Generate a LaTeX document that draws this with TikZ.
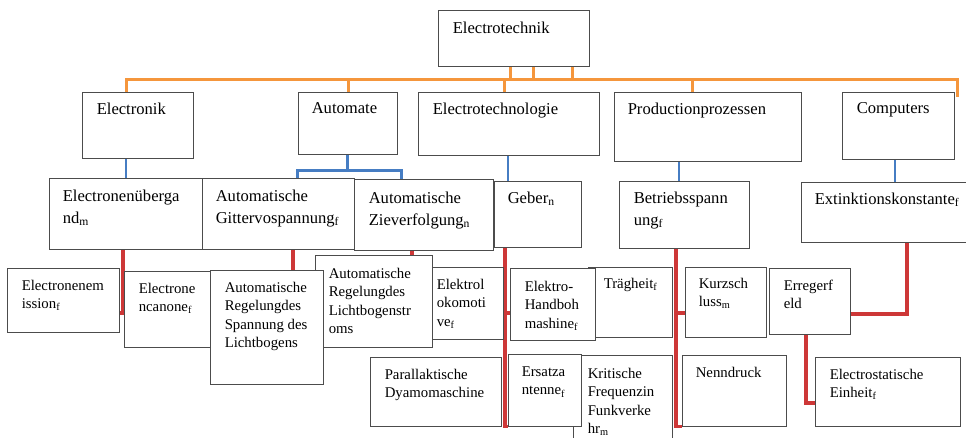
\documentclass[tikz,border=0pt]{standalone}
\usepackage{fontspec}
\setmainfont{Liberation Serif}
\usetikzlibrary{fit,backgrounds}
\definecolor{busorange}{RGB}{245,150,60}
\definecolor{linkblue}{RGB}{70,125,195}
\definecolor{linkred}{RGB}{205,55,55}
\begin{document}
\begin{tikzpicture}[x=1pt,y=-1pt,
        box/.style={draw=black!70,line width=0.9pt,fill=white,inner sep=0pt,fit={#1}},
        txt/.style={anchor=north west,inner sep=0pt,align=left,font=\fontsize{16.6}{22}\selectfont},
        smalltxt/.style={anchor=north west,inner sep=0pt,align=left,font=\fontsize{14.8}{18.5}\selectfont},
        orangeline/.style={draw=busorange,line width=3pt},
        blueline/.style={draw=linkblue,line width=2.5pt},
        redline/.style={draw=linkred,line width=3.5pt}]
        \useasboundingbox (0,0) rectangle (966,438);

        % top and first level
        \node[box={(438,10) (589,66)}] (top) {};
        \node[txt] (top-t) at ([shift={(15,12)}]top.north west) {Electrotechnik};

        \node[box={(82,92) (193,158)}] (electronik) {};
        \node[txt] (electronik-t) at ([shift={(15,11)}]electronik.north west) {Electronik};
        \node[box={(298,92) (397,154)}] (automate) {};
        \node[txt] (automate-t) at ([shift={(14,11)}]automate.north west) {Automate};
        \node[box={(418,92) (599,155)}] (etechno) {};
        \node[txt] (etechno-t) at ([shift={(15,11)}]etechno.north west) {Electrotechnologie};
        \node[box={(614,92) (801,161)}] (prodproz) {};
        \node[txt] (prodproz-t) at ([shift={(14,11)}]prodproz.north west) {Productionprozessen};
        \node[box={(842,92) (954,159)}] (computers) {};
        \node[txt] (computers-t) at ([shift={(15,11)}]computers.north west) {Computers};

        % second level
        \node[box={(49,178) (202,249)}] (uebergang) {};
        \node[txt] (uebergang-t) at ([shift={(14,12)}]uebergang.north west) {Electronenüberga\\nd\textsubscript{m}};
        \node[box={(202,178) (354,249)}] (gitter) {};
        \node[txt] (gitter-t) at ([shift={(14,12)}]gitter.north west) {Automatische\\Gittervospannung\textsubscript{f}};
        \node[box={(354,179) (493,250)}] (zieh) {};
        \node[txt] (zieh-t) at ([shift={(15,13)}]zieh.north west) {Automatische\\Zieverfolgung\textsubscript{n}};
        \node[box={(494,181) (581,247)}] (geber) {};
        \node[txt] (geber-t) at ([shift={(14,11)}]geber.north west) {Geber\textsubscript{n}};
        \node[box={(619,181) (749,248)}] (betrieb) {};
        \node[txt] (betrieb-t) at ([shift={(15,11)}]betrieb.north west) {Betriebsspann\\ung\textsubscript{f}};
        \node[box={(801,182) (968,242)}] (extinkt) {};
        \node[txt] (extinkt-t) at ([shift={(14,11)}]extinkt.north west) {Extinktionskonstante\textsubscript{f}};

        % third level
        \node[box={(7,268) (119,332)}] (emission) {};
        \node[smalltxt] (emission-t) at ([shift={(15,12)}]emission.north west) {Electronenem\\ission\textsubscript{f}};
        \node[box={(124,271) (215,347)}] (kanone) {};
        \node[smalltxt] (kanone-t) at ([shift={(15,12)}]kanone.north west) {Electrone\\ncanone\textsubscript{f}};
        \node[box={(315,255) (432,347)}] (regstrom) {};
        \node[smalltxt] (regstrom-t) at ([shift={(14,13)}]regstrom.north west) {Automatische\\Regelungdes\\Lichtbogenstr\\oms};
        \node[box={(210,270) (323,384)}] (regspann) {};
        \node[smalltxt] (regspann-t) at ([shift={(15,12)}]regspann.north west) {Automatische\\Regelungdes\\Spannung des\\Lichtbogens};
        \node[box={(432,267) (503,339)}] (lokomotive) {};
        \node[smalltxt] (lokomotive-t) at ([shift={(5,12)}]lokomotive.north west) {Elektrol\\okomoti\\ve\textsubscript{f}};
        \node[box={(370,357) (501,426)}] (parallakt) {};
        \node[smalltxt] (parallakt-t) at ([shift={(15,12)}]parallakt.north west) {Parallaktische\\Dyamomaschine};
        \node[box={(588,267) (672,337)}] (traegheit) {};
        \node[smalltxt] (traegheit-t) at ([shift={(16,11)}]traegheit.north west) {Trägheit\textsubscript{f}};
        \node[box={(510,268) (595,340)}] (handbohr) {};
        \node[smalltxt] (handbohr-t) at ([shift={(15,13)}]handbohr.north west) {Elektro-\\Handboh\\mashine\textsubscript{f}};
        \node[box={(573,355) (672,445)}] (kritisch) {};
        \node[smalltxt] (kritisch-t) at ([shift={(15,13)}]kritisch.north west) {Kritische\\Frequenzin\\Funkverke\\hr\textsubscript{m}};
        \node[box={(508,354) (581,426)}] (ersatz) {};
        \node[smalltxt] (ersatz-t) at ([shift={(14,13)}]ersatz.north west) {Ersatza\\ntenne\textsubscript{f}};
        \node[box={(685,267) (766,337)}] (kurzschluss) {};
        \node[smalltxt] (kurzschluss-t) at ([shift={(14,11)}]kurzschluss.north west) {Kurzsch\\luss\textsubscript{m}};
        \node[box={(682,355) (786,426)}] (nenndruck) {};
        \node[smalltxt] (nenndruck-t) at ([shift={(14,12)}]nenndruck.north west) {Nenndruck};
        \node[box={(769,268) (850,334)}] (erreger) {};
        \node[smalltxt] (erreger-t) at ([shift={(15,12)}]erreger.north west) {Erregerf\\eld};
        \node[box={(815,357) (960,426)}] (einheit) {};
        \node[smalltxt] (einheit-t) at ([shift={(15,12)}]einheit.north west) {Electrostatische\\Einheit\textsubscript{f}};

        \begin{scope}[on background layer]
            % orange bus
            \coordinate (busL) at (126,80);
            \coordinate (busR) at (957,80);
            \draw[orangeline] (electronik.north -| busL) -- (busL) -- (busR) -- ++(0,17);
            \foreach \x in {510,533,572}
                \draw[orangeline] (top.south -| \x,0) -- (busL -| \x,0);
            \draw[orangeline] (automate.north -| 348,0) -- (busL -| 348,0);
            \draw[orangeline] (etechno.north -| 504,0) -- (busL -| 504,0);
            \draw[orangeline] (prodproz.north -| 692,0) -- (busL -| 692,0);

            % blue links
            \draw[blueline] (electronik.south -| busL) -- (uebergang.north -| busL);
            \draw[blueline] (automate.south) -- ++(0,16) coordinate (autojoin);
            \draw[blueline,line width=3pt] (gitter.north -| 297,0) |- (autojoin) -| (zieh.north -| 401,0);
            \draw[blueline] (etechno.south -| 508,0) -- (geber.north -| 508,0);
            \draw[blueline] (prodproz.south -| 679,0) -- (betrieb.north -| 679,0);
            \draw[blueline] (computers.south -| 895,0) -- (extinkt.north -| 895,0);

            % red links
            \draw[redline] (uebergang.south -| 123,0) |- (emission.east |- 0,313);
            \draw[redline] (gitter.south -| 293,0) -- (regspann.north -| 293,0);
            \draw[redline] (zieh.south -| 412,0) -- (regstrom.north -| 412,0);
            \draw[redline] (geber.south -| 505,0) |- (ersatz.south west);
            \draw[redline] (505,313) -- (handbohr.west |- 0,313);
            \draw[redline] (betrieb.south -| 676,0) |- (nenndruck.south west);
            \draw[redline] (676,313) -- (kurzschluss.west |- 0,313);
            \draw[redline] (extinkt.south -| 907,0) |- (erreger.east |- 0,314);
            \draw[redline] (erreger.south -| 806,0) |- (einheit.west |- 0,403);
        \end{scope}
\end{tikzpicture}
\end{document}
